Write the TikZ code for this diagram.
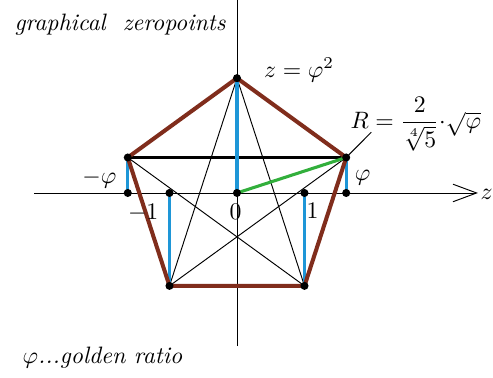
\documentclass[tikz,border=0pt]{standalone}
\usepackage{amsmath,amssymb}
\usetikzlibrary{arrows.meta}
\definecolor{penta}{RGB}{128,45,28}
\definecolor{zblue}{RGB}{30,150,215}
\definecolor{zgreen}{RGB}{50,175,60}
\tikzset{
  pentaline/.style={penta,line width=1.7pt},
  bluebar/.style={zblue,line width=1.3pt},
  thinline/.style={black,line width=0.4pt},
  dot/.style={circle,fill=black,inner sep=0pt,minimum size=3.4pt},
  italictext/.style={font=\itshape}
}
\begin{document}
\begin{tikzpicture}
        \useasboundingbox (-3.511,-2.741) rectangle (3.793,2.859);

        \coordinate (O) at (0,0);
        \coordinate (T) at (0,1.7013); % top vertex, R = 1.7013
        \coordinate (L) at (-1.618,0.5257);
        \coordinate (Rv) at (1.618,0.5257);
        \coordinate (BL) at (-1,-1.3764);
        \coordinate (BR) at (1,-1.3764);
        \coordinate (M1) at (-1,0);
        \coordinate (P1) at (1,0);
        \coordinate (MP) at (-1.618,0);
        \coordinate (PP) at (1.618,0);
        \coordinate (XL) at (-3.0,0);
        \coordinate (XR) at (3.57,0);
        \coordinate (YT) at (0,2.859);
        \coordinate (YB) at (0,-2.27);
        \coordinate (Rtip) at (1.99,0.90);

        % axes
        \draw[thinline] (YB) -- (YT);
        \draw[thinline,-{Straight Barb[length=3.5mm,width=2.6mm]}] (XL) -- (XR);

        % pentagram
        \draw[thinline] (BL) -- (T) -- (BR) -- (L);
        \draw[thinline] (BL) -- (Rv) -- (Rtip);
        \draw[line width=1.6pt] (L) -- (Rv);

        % vertical bars
        \draw[bluebar] (T) -- (O);
        \draw[bluebar] (L) -- (MP);
        \draw[bluebar] (Rv) -- (PP);
        \draw[bluebar] (M1) -- (BL);
        \draw[bluebar] (P1) -- (BR);

        % radius
        \draw[zgreen,line width=1.3pt] (O) -- (Rv);

        % pentagon
        \draw[pentaline,line join=round] (T) -- (Rv) -- (BR) -- (BL) -- (L) -- cycle;

        \foreach \p in {O,T,L,Rv,BL,BR,M1,P1,MP,PP}
            \node[dot] at (\p) {};

        \node[italictext,anchor=west] (title) at (-3.42,2.50) {graphical\ \ zeropoints};
        \node (zphi) at (0.92,1.82) {$z=\varphi^2$};
        \node[anchor=west,inner sep=1pt] (rad) at (1.64,1.02) {$R=\dfrac{2}{\sqrt[4]{5}}{\cdot}\sqrt{\varphi}$};
        \node (lmp) at (-2.04,0.21) {$-\varphi$};
        \node (lpp) at (1.86,0.23) {$\varphi$};
        \node (lm1) at (-1.39,-0.30) {$-1$};
        \node (l0) at (-0.02,-0.28) {$0$};
        \node (lp1) at (1.12,-0.27) {$1$};
        \node (lz) at (3.70,-0.02) {$z$};
        \node[italictext,anchor=west] (note) at (-3.30,-2.44) {$\varphi$...golden\ ratio};
\end{tikzpicture}
\end{document}
